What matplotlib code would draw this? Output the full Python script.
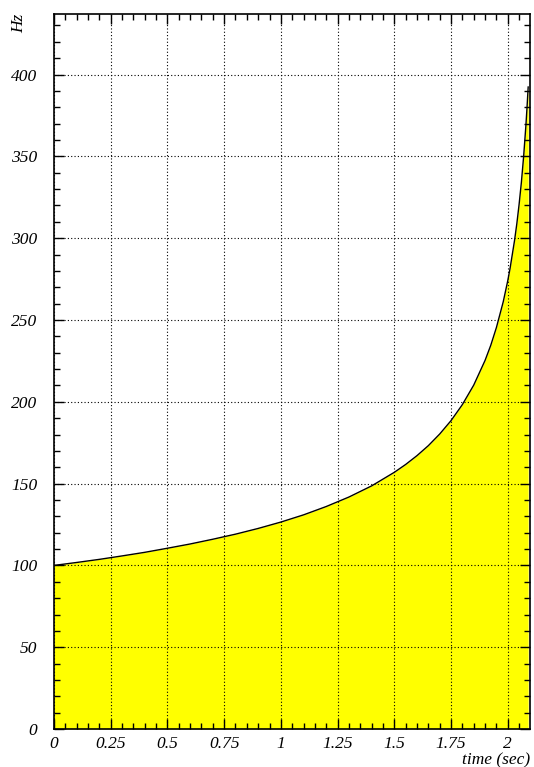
import matplotlib
matplotlib.use('Agg')
import matplotlib.pyplot as plt
from matplotlib.ticker import MultipleLocator

# frequency vs time
t = [0, 0.1, 0.2, 0.3, 0.4, 0.5, 0.6, 0.7, 0.8, 0.9, 1.0, 1.1, 1.2, 1.3, 1.4,
     1.5, 1.55, 1.6, 1.65, 1.7, 1.75, 1.8, 1.85, 1.9, 1.925, 1.95, 1.98, 2.0,
     2.01, 2.03, 2.04, 2.05, 2.06, 2.07, 2.08, 2.085, 2.09]
hz = [100, 101.8, 103.7, 105.8, 108.0, 110.5, 113.1, 116.0, 119.1, 122.6, 126.5,
      130.9, 136.0, 141.8, 148.6, 156.9, 161.7, 167.1, 173.2, 180.3, 188.5,
      198.3, 210.2, 225.3, 234.5, 245.4, 261.1, 274.0, 281.4, 298.7, 308.9,
      320.7, 334.1, 350.0, 369.0, 380.1, 392.4]

xticks = [0, 0.25, 0.5, 0.75, 1, 1.25, 1.5, 1.75, 2]
xlabels = ['0', '0.25', '0.5', '0.75', '1', '1.25', '1.5', '1.75', '2']
yticks = [0, 50, 100, 150, 200, 250, 300, 350, 400]

plt.rcParams['font.family'] = ['Liberation Serif', 'DejaVu Serif']
plt.rcParams['font.style'] = 'italic'

fig = plt.figure(figsize=(5.34, 7.67), dpi=100)
ax = fig.add_axes([0.1011, 0.0495, 0.8914, 0.9322])

ax.fill_between(t, hz, 0, color='#ffff00', lw=0, zorder=1)
ax.plot(t, hz, color='black', lw=1.0, zorder=4)

ax.set_xlim(0, 2.098)
ax.set_ylim(0, 437)
ax.set_xticks(xticks)
ax.set_xticklabels(xlabels)
ax.set_yticks(yticks)
ax.xaxis.set_minor_locator(MultipleLocator(0.05))
ax.yaxis.set_minor_locator(MultipleLocator(10))

ax.grid(True, which='major', color='black', linestyle=(0, (1, 2)), lw=0.8, zorder=3)
ax.set_axisbelow(False)

ax.tick_params(which='both', direction='in', top=True, right=True, labelsize=12.5)
ax.tick_params(which='major', length=7, width=1)
ax.tick_params(which='minor', length=4, width=1)
ax.tick_params(axis='y', pad=12)
ax.tick_params(axis='x', pad=5)
for s in ax.spines.values():
    s.set_linewidth(1.2)

ax.set_xlabel('time (sec)', fontsize=12.5, loc='right', labelpad=0)
ax.set_ylabel('Hz', fontsize=12.5, loc='top')
ax.yaxis.set_label_coords(-0.057, 1.0)

fig.savefig('out.png', dpi=100)
